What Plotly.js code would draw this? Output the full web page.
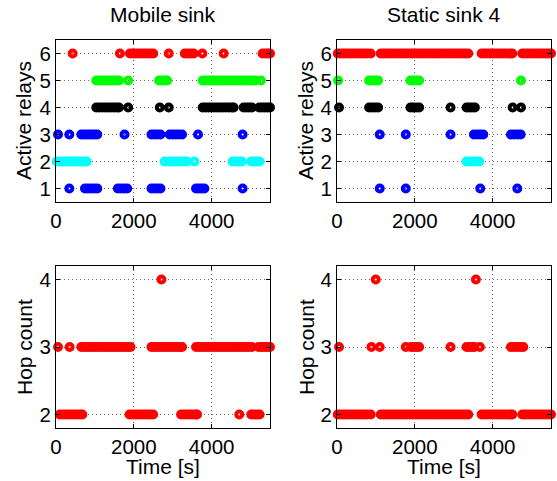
<!DOCTYPE html>
<html>
<head>
<meta charset="utf-8">
<script src="https://cdn.plot.ly/plotly-3.0.1.min.js"></script>
<style>html,body{margin:0;padding:0;background:#fff}#chart{width:557px;height:481px}</style>
</head>
<body>
<div id="chart"></div>
<script>
// ---- Data (time in seconds) ----
// Mobile sink: active relays per level
const mobRelay6 = [428, 1643, 1900, 1975, 2050, 2125, 2200, 2275, 2350, 2425, 2500, 2898, 3310, 3385, 3460, 3540, 3761, 4309, 5310, 5385, 5450, 5500];
const mobRelay5 = [1035, 1110, 1185, 1260, 1335, 1410, 1485, 1560, 1617, 1855, 2650, 2720, 2790, 2855, 3770, 3845, 3920, 3995, 4070, 4145, 4220, 4295, 4370, 4445, 4520, 4595, 4670, 4745, 4820, 4895, 4970, 5045, 5130, 5266];
const mobRelay4 = [1035, 1110, 1185, 1260, 1335, 1410, 1485, 1560, 1617, 1855, 2668, 2898, 3770, 3845, 3920, 3995, 4070, 4145, 4220, 4295, 4370, 4445, 4520, 4565, 4822, 4895, 4965, 5035, 5223, 5295, 5365, 5435, 5500];
const mobRelay3 = [52, 343, 651, 720, 790, 860, 930, 1000, 1061, 1761, 2454, 2530, 2610, 2685, 2924, 3000, 3080, 3160, 3240, 3650, 4796];
const mobRelay2 = [20, 95, 170, 245, 300, 370, 445, 520, 595, 670, 740, 790, 2790, 2920, 2995, 3070, 3145, 3220, 3295, 3369, 3556, 4539, 4620, 4700, 4779, 5018, 5090, 5160, 5231];
const mobRelay1 = [343, 744, 820, 900, 980, 1061, 1590, 1670, 1750, 1830, 2454, 2530, 2610, 2685, 3599, 3670, 3740, 3813, 4796];

// Static sink 4: active relays per level
const statRelay6 = [20, 95, 170, 245, 320, 395, 470, 545, 620, 695, 770, 867, 1124, 1200, 1275, 1350, 1425, 1500, 1575, 1650, 1725, 1800, 1875, 1950, 2025, 2100, 2175, 2250, 2325, 2400, 2475, 2550, 2625, 2700, 2775, 2850, 2925, 3000, 3075, 3150, 3225, 3300, 3373, 3716, 3790, 3865, 3940, 4015, 4090, 4165, 4240, 4315, 4390, 4450, 4505, 4762, 4835, 4910, 4985, 5060, 5135, 5210, 5285, 5360, 5435, 5500];
const statRelay5 = [27, 825, 900, 980, 1056, 1888, 1960, 2035, 2111, 4728];
const statRelay4 = [52, 825, 900, 980, 1056, 1888, 1960, 2035, 2111, 2918, 3330, 3400, 3470, 3544, 4514, 4728];
const statRelay3 = [1099, 1768, 2918, 3519, 3600, 3680, 3759, 4471, 4550, 4635, 4720];
const statRelay2 = [3330, 3410, 3490, 3570, 3656];
const statRelay1 = [1099, 1768, 3682, 4634];

// Mobile sink: hop count per level
const mobHop4 = [2710];
const mobHop3 = [52, 351, 651, 725, 800, 875, 950, 1025, 1100, 1175, 1250, 1325, 1400, 1475, 1550, 1625, 1700, 1775, 1850, 1915, 2454, 2530, 2605, 2680, 2755, 2830, 2905, 2980, 3055, 3130, 3190, 3240, 3599, 3675, 3750, 3825, 3900, 3975, 4050, 4125, 4200, 4275, 4350, 4425, 4500, 4575, 4650, 4725, 4800, 4875, 4950, 5035, 5206, 5280, 5355, 5430, 5500];
const mobHop2 = [95, 170, 245, 320, 395, 470, 545, 620, 676, 1890, 1965, 2040, 2115, 2190, 2265, 2340, 2415, 2496, 3215, 3290, 3365, 3440, 3515, 3590, 3625, 4710, 5018, 5090, 5160, 5231];

// Static sink 4: hop count per level
const statHop4 = [996, 3570];
const statHop3 = [52, 885, 1099, 1768, 1900, 1970, 2040, 2111, 2918, 3330, 3400, 3470, 3530, 3673, 4471, 4550, 4630, 4710, 4788];
const statHop2 = [20, 95, 170, 245, 320, 395, 470, 545, 620, 695, 770, 867, 1124, 1200, 1275, 1350, 1425, 1500, 1575, 1650, 1725, 1800, 1875, 1950, 2025, 2100, 2175, 2250, 2325, 2400, 2475, 2550, 2625, 2700, 2775, 2850, 2925, 3000, 3075, 3150, 3225, 3300, 3373, 3716, 3790, 3865, 3940, 4015, 4090, 4165, 4240, 4315, 4390, 4450, 4505, 4762, 4835, 4910, 4985, 5060, 5135, 5210, 5285, 5360, 5435, 5500];

const relayLevels = [6, 5, 4, 3, 2, 1];
const hopLevels = [4, 3, 2];
const xTicks = [0, 2000, 4000];
const relayTicks = [1, 2, 3, 4, 5, 6];
const hopTicks = [2, 3, 4];
const panelTitles = ['Mobile sink', 'Static sink 4'];
const yTitles = ['Active relays', 'Hop count'];
const xTitle = 'Time [s]';

// ---- Styles ----
const relayColors = {6: '#ff0000', 5: '#00ff00', 4: '#000000', 3: '#0000ff', 2: '#00ffff', 1: '#0000ff'};
const hopColor = '#ff0000';
const FONT = 'Liberation Sans, Arial, Helvetica, sans-serif';

function mk(xs, level, color, xa, ya) {
  return {
    type: 'scatter', mode: 'markers', x: xs, y: xs.map(() => level),
    xaxis: xa, yaxis: ya, cliponaxis: false, hoverinfo: 'skip', showlegend: false,
    marker: {symbol: 'circle-open', size: 6, color: color, line: {width: 4, color: color}}
  };
}

const mobRelay = {6: mobRelay6, 5: mobRelay5, 4: mobRelay4, 3: mobRelay3, 2: mobRelay2, 1: mobRelay1};
const statRelay = {6: statRelay6, 5: statRelay5, 4: statRelay4, 3: statRelay3, 2: statRelay2, 1: statRelay1};
const mobHop = {4: mobHop4, 3: mobHop3, 2: mobHop2};
const statHop = {4: statHop4, 3: statHop3, 2: statHop2};

const traces = [];
relayLevels.forEach(l => traces.push(mk(mobRelay[l], l, relayColors[l], 'x', 'y')));
relayLevels.forEach(l => traces.push(mk(statRelay[l], l, relayColors[l], 'x2', 'y2')));
hopLevels.forEach(l => traces.push(mk(mobHop[l], l, hopColor, 'x3', 'y3')));
hopLevels.forEach(l => traces.push(mk(statHop[l], l, hopColor, 'x4', 'y4')));

const W = 557, H = 481;
const px = (a, b) => [a / W, b / W];
const py = (top, bot) => [1 - bot / H, 1 - top / H];

function xax(dom, anchor) {
  return {
    domain: dom, anchor: anchor, range: [0, 5500], tickvals: xTicks, ticktext: xTicks.map(String),
    showgrid: true, gridcolor: '#666', griddash: '1px,3px', gridwidth: 1, zeroline: false,
    ticks: 'inside', ticklen: 4, tickcolor: '#000', showline: true, mirror: 'ticks', linecolor: '#000', linewidth: 1,
    tickfont: {family: FONT, size: 20.5, color: '#000'}, fixedrange: true
  };
}
function yax(dom, anchor, range, ticks) {
  return {
    domain: dom, anchor: anchor, range: range, tickvals: ticks, ticktext: ticks.map(String),
    showgrid: true, gridcolor: '#666', griddash: '1px,3px', gridwidth: 1, zeroline: false,
    ticks: 'inside', ticklen: 4, tickcolor: '#000', showline: true, mirror: 'ticks', linecolor: '#000', linewidth: 1,
    tickfont: {family: FONT, size: 20.5, color: '#000'}, fixedrange: true
  };
}

const dL = px(56, 270), dR = px(337, 551);
const dT = py(40, 202), dB = py(266, 428);

const ann = (text, x, y, rot) => ({
  text: text, xref: 'paper', yref: 'paper', x: x / W, y: 1 - y / H,
  xanchor: 'center', yanchor: 'middle', showarrow: false, textangle: rot || 0,
  font: {family: FONT, size: 21, color: '#000'}
});

const layout = {
  width: W, height: H, margin: {l: 0, r: 0, t: 0, b: 0},
  paper_bgcolor: '#fff', plot_bgcolor: '#fff', showlegend: false,
  xaxis: xax(dL, 'y'), yaxis: yax(dT, 'x', [0.5, 6.5], relayTicks),
  xaxis2: xax(dR, 'y2'), yaxis2: yax(dT, 'x2', [0.5, 6.5], relayTicks),
  xaxis3: xax(dL, 'y3'), yaxis3: yax(dB, 'x3', [1.8, 4.2], hopTicks),
  xaxis4: xax(dR, 'y4'), yaxis4: yax(dB, 'x4', [1.8, 4.2], hopTicks),
  annotations: [
    ann(panelTitles[0], 163, 14), ann(panelTitles[1], 444, 14),
    ann(yTitles[0], 24, 121, -90), ann(yTitles[0], 306, 121, -90),
    ann(yTitles[1], 24, 347, -90), ann(yTitles[1], 306, 347, -90),
    ann(xTitle, 163, 466), ann(xTitle, 444, 466)
  ]
};

Plotly.newPlot('chart', traces, layout, {staticPlot: true, displayModeBar: false});
</script>
</body>
</html>
